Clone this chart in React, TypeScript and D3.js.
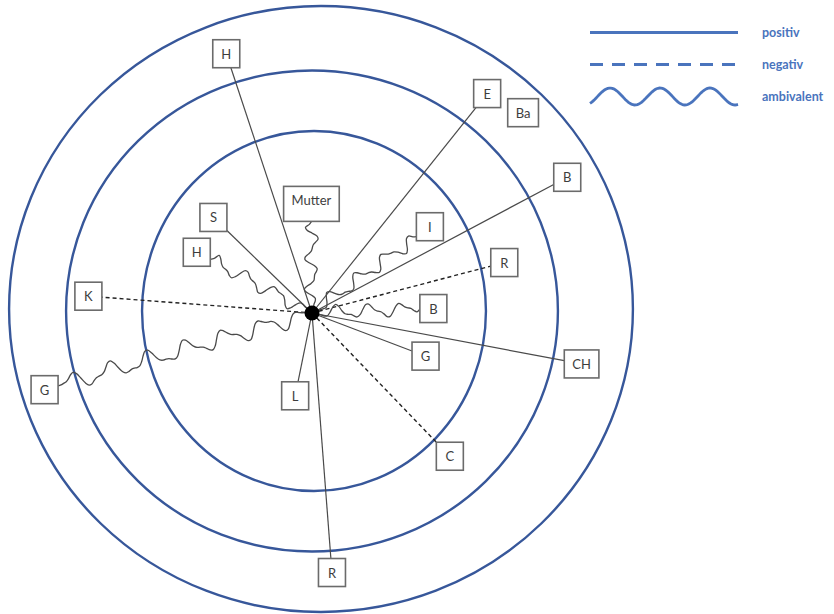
import React from 'react';
import * as d3 from 'd3';

// contacts around the ego (angle in degrees, clockwise from east; distance in ring units)
const labels = ['H', 'E', 'Ba', 'B', 'Mutter', 'S', 'H', 'I', 'R', 'B', 'G', 'CH', 'C', 'L', 'R', 'K', 'G'];
const relations = [
  'positiv', 'positiv', 'none', 'positiv', 'ambivalent', 'positiv', 'ambivalent', 'ambivalent',
  'negativ', 'ambivalent', 'positiv', 'positiv', 'negativ', 'positiv', 'positiv', 'negativ', 'ambivalent',
];
const angles = [-108.3, -51.4, -43.5, -28.0, -90.3, -135.9, -152.2, -36.2, -14.7, -2.1, 20.8, 10.7, 46.1, 101.5, 85.6, -175.7, 164.0];
const distances = [2.47, 2.59, 2.75, 2.72, 0.62, 0.78, 0.74, 0.83, 1.34, 0.69, 0.69, 2.49, 1.34, 0.48, 2.27, 1.72, 2.55];

const ringLevels = [1, 2, 3];
const legendItems = ['positiv', 'negativ', 'ambivalent'];

const W = 834;
const H = 614;
const center = { x: 312, y: 313 };
const ringShape = [
  { dx: 2, dy: -2, sx: 0.977, sy: 1.023 },
  { dx: 0, dy: -2, sx: 1.012, sy: 0.99 },
  { dx: 9, dy: -4, sx: 1.016, sy: 0.987 },
];
const ringColor = '#37579a';
const legendColor = '#4a74bd';
const edgeColor = '#4a4a4a';
const boxFont = '13px Lato';

function textWidth(t: string) {
  const c = document.createElement('canvas').getContext('2d');
  if (!c) return t.length * 8;
  c.font = boxFont;
  return c.measureText(t).width;
}

// wiggly "ambivalent" stroke between two points
function wavyPath(x0: number, y0: number, x1: number, y1: number) {
  const dx = x1 - x0;
  const dy = y1 - y0;
  const L = Math.hypot(dx, dy);
  const ux = dx / L;
  const uy = dy / L;
  const nx = -uy;
  const ny = ux;
  const wl = 28 + L * 0.045;
  const amp = 4.5 + L * 0.01;
  const n = Math.max(8, Math.round(L / 3));
  const pts: [number, number][] = d3.range(n + 1).map((i) => {
    const s = (i / n) * L;
    const taper = Math.min(1, s / 14, (L - s) / 6);
    const off =
      taper * amp * (Math.sin((2 * Math.PI * s) / wl) + 0.4 * Math.sin((2 * Math.PI * s) / (wl * 0.47) + 1.3));
    return [x0 + ux * s + nx * off, y0 + uy * s + ny * off];
  });
  return d3.line().curve(d3.curveCatmullRom)(pts) || '';
}

export default function App() {
  const r = d3.scaleLinear().domain([0, 1, 2, 3]).range([0, 176, 243, 307]);

  const nodes = labels.map((label, i) => {
    const a = (angles[i] * Math.PI) / 180;
    const d = r(distances[i]);
    const bx = center.x + d * Math.cos(a);
    const by = center.y + d * Math.sin(a);
    const w = Math.max(27, textWidth(label) + 16);
    const h = label.length > 2 ? 35 : 28;
    return { label, rel: relations[i], bx, by, w, h };
  });

  const edges = nodes
    .filter((n) => n.rel !== 'none')
    .map((n) => {
      const dx = n.bx - center.x;
      const dy = n.by - center.y;
      const s = Math.min(dx === 0 ? 1 : n.w / 2 / Math.abs(dx), dy === 0 ? 1 : n.h / 2 / Math.abs(dy));
      return { ...n, ex: n.bx - s * dx, ey: n.by - s * dy };
    });

  const legendX = d3.scaleLinear().domain([0, 1]).range([590, 738]);
  const legendY = d3.scalePoint().domain(legendItems).range([32.5, 96.5]);
  const legendWave = d3.range(0, 1.0001, 0.01).map((t) => {
    const x = legendX(t);
    return [x, (legendY('ambivalent') as number) - 8.5 * Math.cos((2 * Math.PI * (x - 610)) / 50)] as [number, number];
  });

  return (
    <svg width={W} height={H} style={{ position: 'absolute', left: 0, top: 0, background: '#fff' }}>
      {ringLevels.map((lv, i) => (
        <ellipse
          key={lv}
          cx={center.x + ringShape[i].dx}
          cy={center.y + ringShape[i].dy}
          rx={r(lv) * ringShape[i].sx}
          ry={r(lv) * ringShape[i].sy}
          fill="none"
          stroke={ringColor}
          strokeWidth={2.4}
        />
      ))}

      {edges.map((e, i) =>
        e.rel === 'ambivalent' ? (
          <path key={i} d={wavyPath(center.x, center.y, e.ex, e.ey)} fill="none" stroke={edgeColor} strokeWidth={1.3} />
        ) : (
          <line
            key={i}
            x1={center.x}
            y1={center.y}
            x2={e.ex}
            y2={e.ey}
            stroke={e.rel === 'negativ' ? '#222' : edgeColor}
            strokeWidth={e.rel === 'negativ' ? 1.4 : 1.2}
            strokeDasharray={e.rel === 'negativ' ? '4 3' : undefined}
          />
        )
      )}

      {nodes.map((n, i) => (
        <g key={i} transform={`translate(${n.bx - n.w / 2},${n.by - n.h / 2})`}>
          <rect width={n.w} height={n.h} fill="#fff" stroke="#6b6b6b" strokeWidth={1.6} />
          <text
            x={n.w / 2}
            y={14}
            textAnchor="middle"
            dominantBaseline="central"
            style={{ font: boxFont, fill: '#3d3d3d' }}
          >
            {n.label}
          </text>
        </g>
      ))}

      <circle cx={center.x} cy={center.y} r={7.5} fill="#000" />

      {legendItems.map((item) => {
        const y = legendY(item) as number;
        return (
          <g key={item}>
            {item === 'ambivalent' ? (
              <path d={d3.line()(legendWave) || ''} fill="none" stroke={legendColor} strokeWidth={2.8} />
            ) : (
              <line
                x1={legendX(0)}
                x2={legendX(1)}
                y1={y}
                y2={y}
                stroke={legendColor}
                strokeWidth={3}
                strokeDasharray={item === 'negativ' ? '13 9' : undefined}
              />
            )}
            <text x={762} y={y} dominantBaseline="central" style={{ font: 'bold 12.5px Lato', fill: legendColor }}>
              {item}
            </text>
          </g>
        );
      })}
    </svg>
  );
}
